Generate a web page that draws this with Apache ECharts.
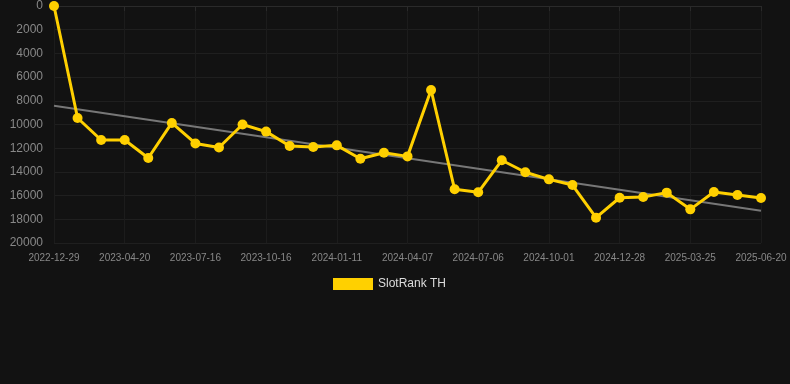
<!DOCTYPE html>
<html><head><meta charset="utf-8">
<script src="https://cdn.jsdelivr.net/npm/echarts@6/dist/echarts.min.js"></script>
<style>html,body{margin:0;padding:0;background:#121212;}#c{width:790px;height:384px;}</style>
</head><body><div id="c"></div>
<script>
const categories = ['2022-12-29','2023-02-05','2023-03-14','2023-04-20','2023-05-19','2023-06-17','2023-07-16','2023-08-16','2023-09-15','2023-10-16','2023-11-14','2023-12-13','2024-01-11','2024-02-09','2024-03-09','2024-04-07','2024-05-07','2024-06-06','2024-07-06','2024-08-04','2024-09-02','2024-10-01','2024-10-30','2024-11-28','2024-12-28','2025-01-26','2025-02-24','2025-03-25','2025-04-23','2025-05-22','2025-06-20'];
const rankValues = [0,9450,11310,11310,12830,9870,11600,11940,10000,10600,11810,11900,11760,12890,12380,12690,7090,15470,15720,13020,14030,14630,15110,17860,16180,16120,15750,17160,15700,15950,16200];
const seriesName = 'SlotRank TH';

// linear regression trend from the data
const n = rankValues.length;
let sx=0, sy=0, sxy=0, sxx=0;
rankValues.forEach((v,i)=>{sx+=i;sy+=v;sxy+=i*v;sxx+=i*i;});
const slope = (n*sxy - sx*sy)/(n*sxx - sx*sx);
const intercept = (sy - slope*sx)/n;
const trend = rankValues.map((v,i)=> (i===0||i===n-1) ? +(intercept+slope*i).toFixed(0) : null);

const chart = echarts.init(document.getElementById('c'));
chart.setOption({
  backgroundColor:'#121212',
  animation:false,
  grid:{left:54,right:29,top:6,bottom:141},
  legend:{
    data:[{name:seriesName,icon:'rect'}], top:273, left:328,
    itemWidth:40, itemHeight:12, itemGap:10, itemStyle:{},
    textStyle:{color:'#ddd',fontSize:12,fontFamily:'Arial, Liberation Sans, sans-serif'}
  },
  xAxis:{
    type:'category', data:categories, boundaryGap:false,
    axisLine:{show:true,lineStyle:{color:'#2a2a2a'}},
    axisTick:{show:true,interval:2,lineStyle:{color:'#2a2a2a'}},
    axisLabel:{interval:2,color:'#888',fontSize:10,margin:10,fontFamily:'Arial, Liberation Sans, sans-serif'},
    splitLine:{show:true,interval:2,lineStyle:{color:'#1c1c1c'}}
  },
  yAxis:{
    type:'value', inverse:true, min:0, max:20000, interval:2000,
    axisLine:{show:false}, axisTick:{show:false},
    axisLabel:{color:'#888',fontSize:12,margin:11,formatter:v=>String(v),fontFamily:'Arial, Liberation Sans, sans-serif'},
    splitLine:{lineStyle:{color:'#1f1f1f'}}
  },
  series:[
    {
      name:seriesName, type:'line', data:rankValues,
      symbol:'circle', symbolSize:10,
      lineStyle:{color:'#FFD000',width:3},
      itemStyle:{color:'#FFD000'},
      z:3
    },
    {
      name:'trend', type:'line', data:trend, connectNulls:true,
      symbol:'none', lineStyle:{color:'#777',width:2},
      z:2
    }
  ]
});
</script></body></html>
